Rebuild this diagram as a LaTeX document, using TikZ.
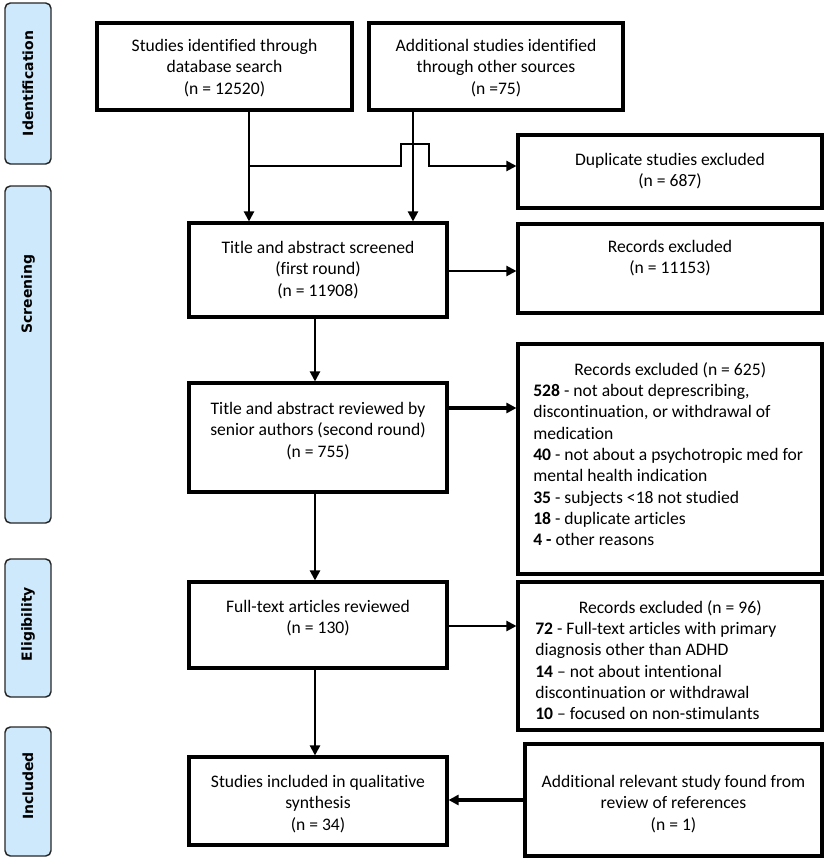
\documentclass[tikz,border=0pt]{standalone}
\usepackage{fontspec}
\setmainfont{Carlito}[Ligatures=NoCommon]
\newfontfamily\sidefont{DejaVu Sans}
\usetikzlibrary{arrows.meta,fit}
\definecolor{sideblue}{HTML}{CDE9FB}
\begin{document}
\begin{tikzpicture}[x=0.75pt,y=-0.75pt,
  box/.style={draw=black, line width=2.3pt, inner sep=0pt},
  side/.style={draw=black!85, fill=sideblue, line width=1.1pt, rounded corners=4pt, inner sep=0pt},
  sidetxt/.style={font=\sidefont\bfseries\fontsize{10.5}{12}\selectfont, rotate=90, inner sep=0pt},
  txt/.style={font=\fontsize{13.2}{16}\selectfont, align=center, inner sep=0pt},
  lst/.style={font=\fontsize{13.2}{16}\selectfont, align=left, inner sep=0pt, anchor=west},
  conn/.style={line width=1.6pt},
  arr/.style={line width=1.6pt, -{Triangle[length=7.5pt,width=7.5pt]}},
  thickarr/.style={line width=2.3pt, -{Triangle[length=7.5pt,width=7.5pt]}}]
\useasboundingbox (0,0) rectangle (829,860);

% side labels
\node[side, fit={(5,3) (51,164)}] (ident) {};
\node[side, fit={(5,186) (51,523)}] (screen) {};
\node[side, fit={(5,559) (51,697)}] (elig) {};
\node[side, fit={(5,727) (51,856)}] (incl) {};
\node[sidetxt] (identt) at (28,83.5) {Identification};
\node[sidetxt] (screent) at (28,294) {Screening};
\node[sidetxt] (eligt) at (28,624) {Eligibility};
\node[sidetxt] (inclt) at (28,786) {Included};

% boxes
\node[box, fit={(97,23) (352,110)}] (b1) {};
\node[box, fit={(369,23) (623,110)}] (b2) {};
\node[box, fit={(518,135) (822,208)}] (dup) {};
\node[box, fit={(189,223) (447,317)}] (scr) {};
\node[box, fit={(518,224) (822,313)}] (exc1) {};
\node[box, fit={(189,383) (447,492)}] (rev) {};
\node[box, fit={(518,344) (822,574)}] (exc2) {};
\node[box, fit={(189,582) (447,668)}] (ft) {};
\node[box, fit={(518,582) (822,730)}] (exc3) {};
\node[box, fit={(189,757) (447,845)}] (inc) {};
\node[box, fit={(525,744) (822,856)}] (add) {};

% texts
\node[txt] (b1t) at (224.5,68) {Studies identified through\\database search\\(n = 12520)};
\node[txt] (b2t) at (496,68) {Additional studies identified\\through other sources\\(n =75)};
\node[txt] (dupt) at (670,171) {Duplicate studies excluded\\(n = 687)};
\node[txt] (scrt) at (318,270) {Title and abstract screened\\(first round)\\(n = 11908)};
\node[txt] (exc1t) at (670,258) {Records excluded\\(n = 11153)};
\node[txt] (revt) at (318,431) {Title and abstract reviewed by\\senior authors (second round)\\(n = 755)};
\node[txt] (ftt) at (318,618) {Full-text articles reviewed\\(n = 130)};
\node[txt] (inct) at (318,804) {Studies included in qualitative\\synthesis\\(n = 34)};
\node[txt] (addt) at (673.5,804) {Additional relevant study found from\\review of references\\(n = 1)};
\node[lst] (exc2t) at (533,454) {\makebox[205.5pt]{Records excluded (n = 625)}\\
\textbf{528} - not about deprescribing,\\
discontinuation, or withdrawal of\\
medication\\
\textbf{40} - not about a psychotropic med for\\
mental health indication\\
\textbf{35} - subjects <18 not studied\\
\textbf{18} - duplicate articles\\
\textbf{4 -} other reasons};
\node[lst] (exc3t) at (535,660) {\makebox[202.5pt]{Records excluded (n = 96)}\\
\textbf{72} - Full-text articles with primary\\
diagnosis other than ADHD\\
\textbf{14} – not about intentional\\
discontinuation or withdrawal\\
\textbf{10} – focused on non-stimulants};

% columns
\coordinate (cA) at (249,0);
\coordinate (cB) at (413,0);
\coordinate (cC) at (315,0);
\coordinate (j1) at (249,166);
\coordinate (h1) at (401,166);
\coordinate (h2) at (401,144);
\coordinate (h3) at (429,144);
\coordinate (h4) at (429,166);

% connectors
\draw[arr] (b1.south -| cA) -- (scr.north -| cA);
\draw[arr] (b2.south -| cB) -- (scr.north -| cB);
\draw[arr] (j1) -- (h1) -- (h2) -- (h3) -- (h4) -- (dup.west |- h4);
\draw[arr] (scr.east |- 0,271) -- (exc1.west |- 0,271);
\draw[arr] (scr.south -| cC) -- (rev.north -| cC);
\draw[thickarr] (rev.east |- 0,408) -- (exc2.west |- 0,408);
\draw[arr] (rev.south -| cC) -- (ft.north -| cC);
\draw[arr] (ft.east |- 0,626) -- (exc3.west |- 0,626);
\draw[arr] (ft.south -| cC) -- (inc.north -| cC);
\draw[thickarr] (add.west |- 0,800) -- (inc.east |- 0,800);
\end{tikzpicture}
\end{document}
